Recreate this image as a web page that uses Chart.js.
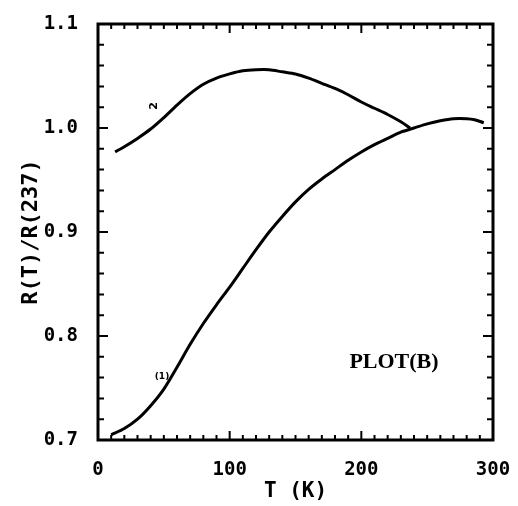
<!DOCTYPE html>
<html>
<head>
<meta charset="utf-8">
<script src="https://cdn.jsdelivr.net/npm/chart.js@4/dist/chart.umd.min.js"></script>
<style>
  html, body { margin: 0; padding: 0; background: #fff; }
  #wrap { width: 518px; height: 506px; }
</style>
</head>
<body>
<div id="wrap"><canvas id="myChart" width="518" height="506"></canvas></div>
<script>
// curve (2): upper curve
const tempUpper = [13, 20, 30, 40, 50, 60, 70, 80, 90, 100, 110, 120, 130, 140, 150, 160, 170, 180, 190, 200, 210, 220, 230, 237]
const ratioUpper = [0.977, 0.982, 0.990, 0.999, 1.010, 1.022, 1.033, 1.042, 1.048, 1.052, 1.055, 1.056, 1.056, 1.054, 1.052, 1.048, 1.043, 1.038, 1.032, 1.025, 1.019, 1.013, 1.006, 1.000]

// curve (1): lower curve
const tempLower = [10, 20, 30, 40, 50, 60, 70, 80, 90, 100, 110, 120, 130, 140, 150, 160, 170, 180, 190, 200, 210, 220, 230, 240, 250, 260, 270, 280, 286, 293]
const ratioLower = [0.705, 0.711, 0.720, 0.733, 0.749, 0.770, 0.792, 0.812, 0.830, 0.847, 0.865, 0.883, 0.900, 0.915, 0.929, 0.941, 0.951, 0.960, 0.969, 0.977, 0.984, 0.990, 0.996, 1.000, 1.004, 1.007, 1.009, 1.009, 1.008, 1.005]

const xTicks = [0, 100, 200, 300]
const yTicks = [0.7, 0.8, 0.9, 1.0, 1.1]

const toPoints = (xs, ys) => xs.map((x, i) => ({ x: x, y: ys[i] }))

const tickFont = { family: 'DejaVu Sans Mono', size: 19, weight: 'bold' }

// frame, inside ticks, titles and annotations
const framePlugin = {
  id: 'frame',
  afterDraw(chart) {
    const ctx = chart.ctx
    const xs = chart.scales.x
    const ys = chart.scales.y
    const a = chart.chartArea

    ctx.save()
    ctx.strokeStyle = '#000'
    ctx.lineWidth = 2

    // minor/major ticks on all four sides
    for (let t = 0; t <= 300; t += 10) {
      const px = xs.getPixelForValue(t)
      const len = t % 100 === 0 ? 9 : 5
      ctx.beginPath()
      ctx.moveTo(px, a.bottom)
      ctx.lineTo(px, a.bottom - len)
      ctx.moveTo(px, a.top)
      ctx.lineTo(px, a.top + len)
      ctx.stroke()
    }
    for (let i = 0; i <= 20; i++) {
      const v = 0.7 + i * 0.02
      const py = ys.getPixelForValue(v)
      const len = i % 5 === 0 ? 10 : 6
      ctx.beginPath()
      ctx.moveTo(a.left, py)
      ctx.lineTo(a.left + len, py)
      ctx.moveTo(a.right, py)
      ctx.lineTo(a.right - len, py)
      ctx.stroke()
    }

    ctx.lineWidth = 3
    ctx.strokeRect(a.left, a.top, a.right - a.left, a.bottom - a.top)

    ctx.fillStyle = '#000'
    ctx.textAlign = 'center'
    ctx.textBaseline = 'middle'

    // axis titles
    ctx.font = 'bold 21px "DejaVu Sans Mono"'
    ctx.fillText('T (K)', (a.left + a.right) / 2, 492)

    ctx.save()
    ctx.translate(31, (a.top + a.bottom) / 2)
    ctx.rotate(-Math.PI / 2)
    ctx.font = 'bold 22px "DejaVu Sans Mono"'
    ctx.fillText('R(T)/R(237)', 0, 0)
    ctx.restore()

    // panel label
    ctx.font = 'bold 22px "Liberation Serif"'
    ctx.fillText('PLOT(B)', 394, 362)

    // curve labels
    ctx.font = 'bold 9px "DejaVu Sans"'
    ctx.fillText('(1)', 162, 377)
    ctx.save()
    ctx.translate(154, 106)
    ctx.rotate(-Math.PI / 2)
    ctx.font = 'bold 11px "DejaVu Sans"'
    ctx.fillText('2', 0, 0)
    ctx.restore()

    ctx.restore()
  }
}

const ctx = document.querySelector('#myChart')

const myChart = new Chart(ctx, {
  type: 'scatter',
  data: {
    datasets: [
      {
        label: '(2)',
        data: toPoints(tempUpper, ratioUpper),
        showLine: true,
        borderColor: '#000',
        borderWidth: 3,
        pointRadius: 0,
        tension: 0.3
      },
      {
        label: '(1)',
        data: toPoints(tempLower, ratioLower),
        showLine: true,
        borderColor: '#000',
        borderWidth: 3,
        pointRadius: 0,
        tension: 0.3
      }
    ]
  },
  options: {
    responsive: false,
    animation: false,
    layout: { padding: { top: 24, right: 25, left: 0, bottom: 0 } },
    plugins: {
      legend: { display: false },
      tooltip: { enabled: false }
    },
    scales: {
      x: {
        type: 'linear',
        min: 0,
        max: 300,
        grid: { display: false },
        border: { display: false },
        afterFit: (scale) => {
          scale.height = 66
          scale.paddingLeft = 0
          scale.paddingRight = 0
        },
        afterBuildTicks: (scale) => { scale.ticks = xTicks.map(v => ({ value: v })) },
        ticks: {
          color: '#000',
          font: tickFont,
          padding: 11,
          maxRotation: 0,
          callback: (v) => String(v)
        }
      },
      y: {
        type: 'linear',
        min: 0.7,
        max: 1.1,
        grid: { display: false },
        border: { display: false },
        afterFit: (scale) => {
          scale.width = 98
          scale.paddingTop = 0
          scale.paddingBottom = 0
        },
        afterBuildTicks: (scale) => { scale.ticks = yTicks.map(v => ({ value: v })) },
        ticks: {
          color: '#000',
          font: tickFont,
          padding: 12,
          callback: (v) => Number(v).toFixed(1)
        }
      }
    }
  },
  plugins: [framePlugin]
})
</script>
</body>
</html>
